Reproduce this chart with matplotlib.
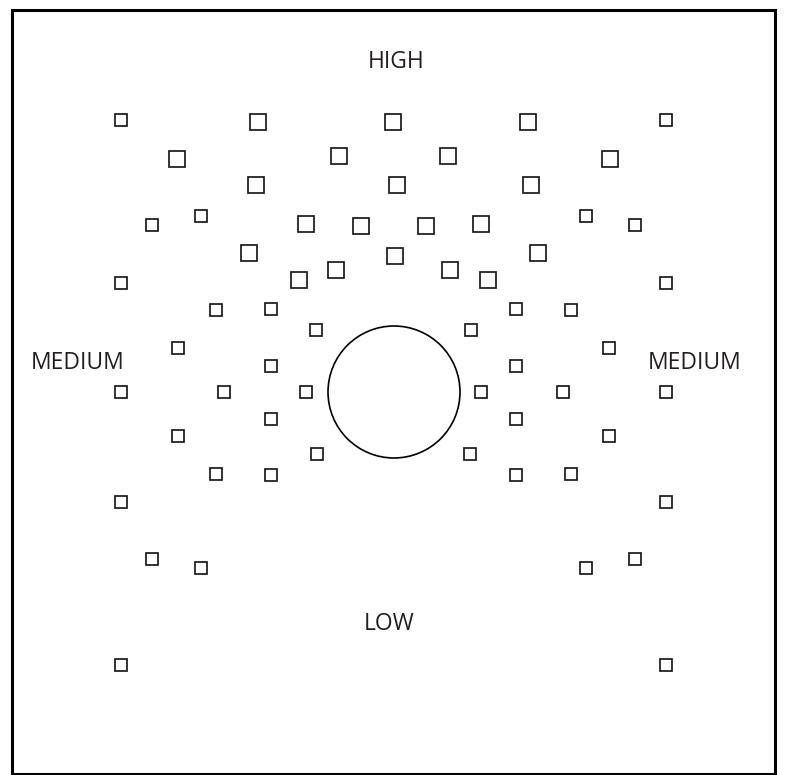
import matplotlib.pyplot as plt
from matplotlib.patches import Rectangle, Circle

# square centres in pixel coords of the original drawing (y grows downwards)
big_x = [258, 393, 528, 177, 339, 448, 610, 256, 397, 531,
         306, 361, 426, 481, 249, 538, 395, 336, 450, 299, 488]
big_y = [122, 122, 122, 159, 156, 156, 159, 185, 185, 185,
         224, 226, 226, 224, 253, 253, 256, 270, 270, 280, 280]

small_x = [121, 666, 201, 586, 152, 635, 121, 666, 216, 571,
           271, 516, 316, 471, 178, 609, 271, 516,
           121, 224, 306, 481, 563, 666,
           271, 516, 178, 609, 317, 470, 216, 571, 271, 516,
           121, 666, 152, 635, 201, 586, 121, 666]
small_y = [120, 120, 216, 216, 225, 225, 283, 283, 310, 310,
           309, 309, 330, 330, 348, 348, 366, 366,
           392, 392, 392, 392, 392, 392,
           419, 419, 436, 436, 454, 454, 474, 474, 475, 475,
           502, 502, 559, 559, 568, 568, 665, 665]

circle_xy = (394, 392)
circle_r = 66

labels = ['HIGH', 'MEDIUM', 'MEDIUM', 'LOW']
label_x = [396, 78, 695, 389]
label_y = [68, 369, 369, 630]

fig = plt.figure(figsize=(7.91, 7.75), dpi=100)
ax = fig.add_axes([0, 0, 1, 1])
ax.set_xlim(0, 791)
ax.set_ylim(775, 0)
ax.axis('off')

# outer frame
ax.add_patch(Rectangle((12, 10), 763, 764, fill=False, lw=2.2, ec='black'))

for xs, ys, s in [(big_x, big_y, 16), (small_x, small_y, 12)]:
    for x, y in zip(xs, ys):
        ax.add_patch(Rectangle((x - s / 2, y - s / 2), s, s,
                               fill=False, lw=1.25, ec='#1a1a1a'))

ax.add_patch(Circle(circle_xy, circle_r, fill=False, lw=1.2, ec='black'))

for t, x, y in zip(labels, label_x, label_y):
    ax.text(x, y, t, ha='center', va='baseline', fontsize=16.5,
            family='Open Sans', color='#231f20')

fig.savefig('out.png', dpi=100)
